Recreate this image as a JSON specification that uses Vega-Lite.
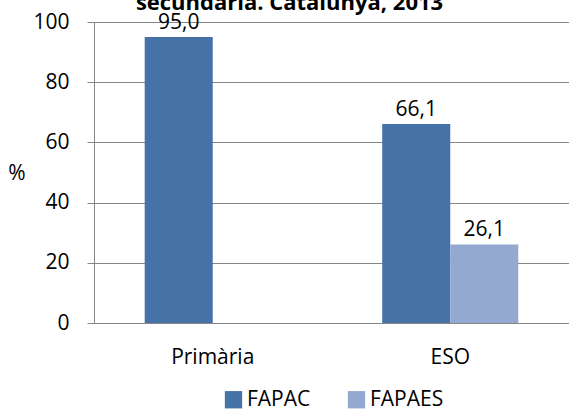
{
  "$schema": "https://vega.github.io/schema/vega-lite/v6.json",
  "width": 475,
  "height": 301,
  "autosize": {"type": "none"},
  "padding": {"left": 94, "top": 22, "right": 0, "bottom": 89},
  "background": "white",
  "title": {"text": "secundària. Catalunya, 2013", "fontSize": 22, "font": "Open Sans", "fontWeight": "bold", "color": "black", "baseline": "alphabetic", "offset": -21, "anchor": "middle", "dx": -42},
  "config": {
    "view": {"stroke": null},
    "font": "Open Sans",
    "locale": {"number": {"decimal": ",", "thousands": ".", "grouping": [3], "currency": ["", " €"]}}
  },
  "data": {"values": [
    {"nivell": "Primària", "federacio": "FAPAC", "valor": 95.0},
    {"nivell": "ESO", "federacio": "FAPAC", "valor": 66.1},
    {"nivell": "ESO", "federacio": "FAPAES", "valor": 26.1}
  ]},
  "encoding": {
    "x": {"field": "nivell", "type": "nominal", "sort": ["Primària", "ESO"],
      "scale": {"paddingInner": 0.427, "paddingOuter": 0.2135},
      "axis": {"title": null, "ticks": false, "labelAngle": 0, "labelFontSize": 21, "labelPadding": 23, "domainColor": "#868686", "labelColor": "black", "labelFont": "Open Sans"}},
    "xOffset": {"field": "federacio", "type": "nominal", "sort": ["FAPAC", "FAPAES"], "scale": {"domain": ["FAPAC", "FAPAES"], "paddingInner": 0, "paddingOuter": 0}},
    "y": {"field": "valor", "type": "quantitative", "scale": {"domain": [0, 100], "nice": false},
      "axis": {"title": "%", "titleAngle": 0, "titleX": -77.5, "titleY": 151, "titleAlign": "center", "titleBaseline": "middle", "titleFontSize": 21, "titleFontWeight": "normal", "titleColor": "black", "titleFont": "Open Sans",
        "values": [0, 20, 40, 60, 80, 100], "format": "d", "labelFontSize": 21, "labelColor": "black", "labelFont": "Open Sans", "labelPadding": 18, "tickSize": 7, "tickColor": "#868686", "domainColor": "#868686", "gridColor": "#868686", "grid": true}}
  },
  "layer": [
    {"mark": {"type": "bar"},
      "encoding": {"color": {"field": "federacio", "type": "nominal",
        "scale": {"domain": ["FAPAC", "FAPAES"], "range": ["#4572A7", "#93A9CF"]},
        "legend": {"title": null, "orient": "none", "direction": "horizontal", "legendX": 129, "legendY": 367, "symbolType": "square", "symbolSize": 300, "symbolStrokeWidth": 0, "labelFontSize": 21, "labelFont": "Open Sans", "labelOffset": 3, "columnPadding": 35, "labelColor": "black"}}}},
    {"mark": {"type": "text", "dy": -8, "baseline": "alphabetic", "fontSize": 21, "font": "Open Sans", "color": "black"},
      "encoding": {"text": {"field": "valor", "type": "quantitative", "format": ".1f"}}}
  ]
}
